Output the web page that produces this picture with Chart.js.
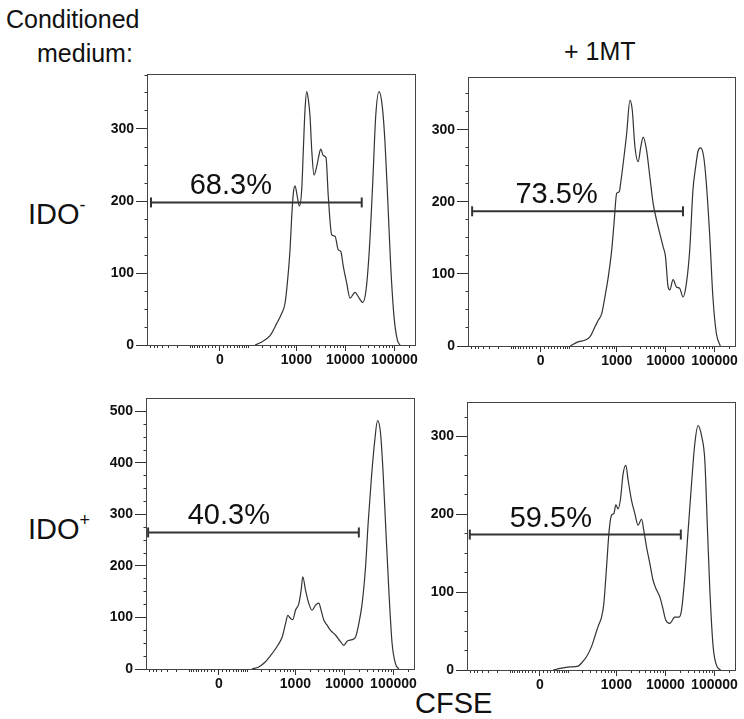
<!DOCTYPE html>
<html>
<head>
<meta charset="utf-8">
<script src="https://cdn.jsdelivr.net/npm/chart.js@4.4.1/dist/chart.umd.min.js"></script>
<style>
  html, body { margin: 0; padding: 0; background: #fff; }
  body { width: 744px; height: 719px; position: relative; overflow: hidden;
         font-family: "Liberation Sans", Arial, Helvetica, sans-serif; color: #111; }
  .txt { position: absolute; white-space: nowrap; line-height: 1; }
  .sup { position: relative; font-size: 18px; }
  canvas { position: absolute; }
</style>
</head>
<body>
<div class="txt" style="left:6px;top:7px;font-size:25px">Conditioned</div>
<div class="txt" style="left:37px;top:41px;font-size:25px">medium:</div>
<div class="txt" style="left:564px;top:39px;font-size:25px">+ 1MT</div>
<div class="txt" style="left:28px;top:200px;font-size:29px">IDO<span class="sup" style="top:-13px">-</span></div>
<div class="txt" style="left:28px;top:515px;font-size:29px">IDO<span class="sup" style="top:-13px">+</span></div>
<div class="txt" style="left:415px;top:689px;font-size:29px">CFSE</div>

<canvas id="pNeg"></canvas>
<canvas id="pNegMT"></canvas>
<canvas id="pPos"></canvas>
<canvas id="pPosMT"></canvas>

<script>
// ---- CFSE histograms: fluorescence values and event counts ----

// IDO- conditioned medium
const cfseNeg = [138, 177, 288, 396, 502, 586, 653, 741, 802, 867, 938, 1045, 1148, 1285, 1386, 1501, 1625, 1753, 1897, 2056, 2290, 2600, 2855, 3138, 3545, 4020, 4478, 5256, 6140, 7170, 8025, 9070, 10630, 12410, 15700, 18340, 22530, 26290, 30690, 36020, 41470, 48400, 56500, 64170, 72880, 83930, 98010, 114400, 129800];
const countNeg = [0, 3, 13, 30, 44, 58, 86, 132, 178, 211, 221, 206, 193, 216, 271, 327, 352, 341, 318, 271, 236, 248, 262, 272, 263, 260, 206, 153, 151, 132, 130, 109, 86, 65, 73, 67, 59, 76, 132, 225, 318, 352, 331, 281, 202, 109, 39, 7, 0];

// IDO- conditioned medium + 1MT
const cfseNegMT = [104, 147, 281, 357, 417, 490, 572, 668, 785, 875, 993, 1122, 1197, 1353, 1590, 1854, 2067, 2345, 2735, 3106, 3462, 4060, 4740, 5538, 6492, 7580, 8850, 9910, 11200, 12130, 14170, 16600, 19390, 22640, 26560, 31000, 36200, 41100, 45770, 51960, 59850, 67900, 79260, 92550, 108600, 131000];
const countNegMT = [0, 5, 13, 27, 36, 45, 69, 96, 133, 170, 212, 214, 226, 254, 295, 341, 328, 277, 256, 277, 290, 272, 235, 198, 175, 156, 138, 124, 82, 78, 92, 82, 80, 68, 87, 133, 217, 249, 270, 275, 263, 226, 156, 68, 18, 0];

// IDO+ conditioned medium
const cfsePos = [125, 175, 243, 334, 458, 536, 629, 701, 796, 887, 1006, 1176, 1310, 1418, 1610, 1880, 2195, 2575, 3006, 3350, 3802, 4440, 5210, 6580, 8320, 9723, 11360, 14370, 16850, 19670, 22960, 26950, 30450, 35700, 41690, 47300, 54460, 61550, 68900, 80430, 93900, 110200, 128600];
const countPos = [0, 4, 14, 30, 49, 62, 88, 104, 98, 96, 114, 127, 153, 179, 153, 127, 114, 124, 128, 114, 95, 85, 75, 66, 53, 46, 54, 57, 62, 88, 127, 198, 283, 374, 445, 482, 458, 380, 283, 153, 49, 10, 0];

// IDO+ conditioned medium + 1MT
const cfsePosMT = [37, 60, 106, 161, 191, 243, 309, 362, 423, 497, 553, 629, 711, 796, 887, 975, 1086, 1214, 1372, 1558, 1735, 2035, 2378, 2777, 3256, 3628, 4120, 4808, 5615, 6580, 7690, 8730, 10190, 12300, 15550, 19020, 21300, 24870, 29030, 34050, 39770, 46400, 54460, 63610, 72170, 80430, 93900, 110200, 132900];
const countPosMT = [0, 2, 4, 5, 9, 17, 30, 43, 56, 68, 85, 132, 179, 199, 201, 212, 207, 220, 252, 263, 244, 218, 201, 186, 194, 179, 158, 137, 115, 103, 94, 81, 64, 60, 68, 68, 77, 120, 179, 239, 291, 314, 301, 269, 179, 103, 30, 6, 0];

// Divided-cell gate: lower / upper CFSE bound, drawn at a count level
const gateLow   = [-694, -690, -759, -735];
const gateHigh  = [21500, 22640, 19670, 20600];
const gateLevel = [198, 187, 265, 174];
const gatePct   = ['68.3%', '73.5%', '40.3%', '59.5%'];

// Axis ranges and ticks
const countMax = [375, 372, 524, 343];
const X_RANGE = [-800, 262144];
const X_MAJOR = [0, 1000, 10000, 100000];
const X_MINOR = [
  -700, -600, -500, -400, -300, -200, -100,
  -90, -80, -70, -60, -50, -40, -30, -20, -10,
  10, 20, 30, 40, 50, 60, 70, 80, 90,
  100, 200, 300, 400, 500, 600, 700, 800, 900,
  2000, 3000, 4000, 5000, 6000, 7000, 8000, 9000,
  20000, 30000, 40000, 50000, 60000, 70000, 80000, 90000,
  200000
];
const Y_STEP = 25;
const Y_LABEL_STEP = 100;

// ---- biexponential (arcsinh) axis ----
const LIN_WIDTH = 55;
const X_TICKS = X_MINOR.concat(X_MAJOR).sort((a, b) => a - b);

class BiexScale extends Chart.LinearScale {
  determineDataLimits() {
    this.min = this.options.min;
    this.max = this.options.max;
  }
  buildTicks() {
    return X_TICKS.map(v => ({ value: v, major: X_MAJOR.includes(v) }));
  }
  configure() {
    super.configure();
    this._tLo = Math.asinh(this.min / LIN_WIDTH);
    this._tHi = Math.asinh(this.max / LIN_WIDTH);
  }
  getPixelForValue(value) {
    const t = Math.asinh(value / LIN_WIDTH);
    return this.getPixelForDecimal((t - this._tLo) / (this._tHi - this._tLo));
  }
  getValueForPixel(pixel) {
    const d = this.getDecimalForPixel(pixel);
    return LIN_WIDTH * Math.sinh(this._tLo + d * (this._tHi - this._tLo));
  }
}
BiexScale.id = 'biex';
BiexScale.defaults = {};
Chart.register(BiexScale);

// ---- panel geometry ----
const AXIS_W = 60, AXIS_H = 32, PAD_T = 8, PAD_R = 8;
const panels = [
  { id: 'pNeg',   left: 148, top: 75,  w: 267, h: 270, cfse: cfseNeg,   count: countNeg,   labelDx: 11 },
  { id: 'pNegMT', left: 469, top: 78,  w: 266, h: 268, cfse: cfseNegMT, count: countNegMT, labelDx: 16 },
  { id: 'pPos',   left: 147, top: 399, w: 267, h: 270, cfse: cfsePos,   count: countPos,   labelDx: 10 },
  { id: 'pPosMT', left: 468, top: 403, w: 267, h: 267, cfse: cfsePosMT, count: countPosMT, labelDx: 11 }
];

const INK = '#333';
const TICK_FONT = { family: '"Liberation Sans", Arial, sans-serif', size: 14, weight: 'bold' };

const framePlugin = {
  id: 'frame',
  beforeDatasetsDraw(chart) {
    const a = chart.chartArea, ctx = chart.ctx;
    ctx.save();
    ctx.strokeStyle = '#444';
    ctx.lineWidth = 1;
    ctx.strokeRect(a.left - 0.5, a.top - 0.5, a.right - a.left + 1, a.bottom - a.top + 1);
    ctx.restore();
  }
};

const gateLabelPlugin = {
  id: 'gateLabel',
  afterDatasetsDraw(chart, args, opts) {
    const xs = chart.scales.x, ys = chart.scales.y, ctx = chart.ctx;
    ctx.save();
    ctx.fillStyle = '#111';
    ctx.font = '29px "Liberation Sans", Arial, sans-serif';
    ctx.textAlign = 'center';
    ctx.textBaseline = 'alphabetic';
    ctx.fillText(opts.text, xs.getPixelForValue(0) + opts.dx, ys.getPixelForValue(opts.level) - 8);
    ctx.restore();
  }
};

panels.forEach((p, i) => {
  const cv = document.getElementById(p.id);
  const cw = AXIS_W + p.w + PAD_R, ch = PAD_T + p.h + AXIS_H;
  cv.width = cw; cv.height = ch;
  cv.style.left = (p.left - AXIS_W) + 'px';
  cv.style.top = (p.top - PAD_T) + 'px';
  cv.style.width = cw + 'px'; cv.style.height = ch + 'px';

  const hist = p.cfse.map((x, k) => ({ x: x, y: p.count[k] }));
  const gate = [{ x: gateLow[i], y: gateLevel[i] }, { x: gateHigh[i], y: gateLevel[i] }];

  new Chart(cv, {
    type: 'line',
    data: {
      datasets: [
        {
          data: hist,
          borderColor: INK,
          borderWidth: 1.2,
          pointRadius: 0,
          fill: false,
          cubicInterpolationMode: 'monotone'
        },
        {
          data: gate,
          borderColor: INK,
          borderWidth: 2,
          pointStyle: 'line',
          pointRotation: 90,
          pointRadius: 5,
          pointBorderColor: INK,
          pointBorderWidth: 2,
          tension: 0
        }
      ]
    },
    options: {
      responsive: false,
      animation: false,
      devicePixelRatio: 1,
      layout: { padding: { left: 0, top: PAD_T, right: PAD_R, bottom: 0 } },
      plugins: {
        legend: { display: false },
        tooltip: { enabled: false },
        gateLabel: { text: gatePct[i], level: gateLevel[i], dx: p.labelDx }
      },
      scales: {
        x: {
          type: 'biex',
          min: X_RANGE[0],
          max: X_RANGE[1],
          border: { display: false },
          grid: {
            drawOnChartArea: false,
            drawTicks: true,
            tickLength: 6,
            tickColor: INK,
            tickWidth: 1,
            tickBorderDash: c => (X_MAJOR.includes(c.tick.value) ? [] : [3, 100])
          },
          ticks: {
            autoSkip: false,
            maxRotation: 0,
            minRotation: 0,
            padding: 1,
            color: '#111',
            font: TICK_FONT,
            callback: v => (X_MAJOR.includes(v) ? String(v) : '')
          },
          afterFit: s => {
            s.height = AXIS_H;
            s.paddingLeft = 0; s.paddingRight = 0; s.paddingTop = 0; s.paddingBottom = 0;
          }
        },
        y: {
          type: 'linear',
          min: 0,
          max: countMax[i],
          border: { display: false },
          grid: {
            drawOnChartArea: false,
            drawTicks: true,
            tickLength: 12,
            tickColor: INK,
            tickWidth: 1,
            tickBorderDash: c => (c.tick.value % Y_LABEL_STEP === 0 ? [] : [0, 8.5, 3, 100])
          },
          ticks: {
            stepSize: Y_STEP,
            includeBounds: false,
            autoSkip: false,
            padding: 2,
            color: '#111',
            font: TICK_FONT,
            callback: v => (v % Y_LABEL_STEP === 0 ? String(v) : '')
          },
          afterFit: s => {
            s.width = AXIS_W;
            s.paddingLeft = 0; s.paddingRight = 0; s.paddingTop = 0; s.paddingBottom = 0;
          }
        }
      }
    },
    plugins: [framePlugin, gateLabelPlugin]
  });
});
</script>
</body>
</html>
